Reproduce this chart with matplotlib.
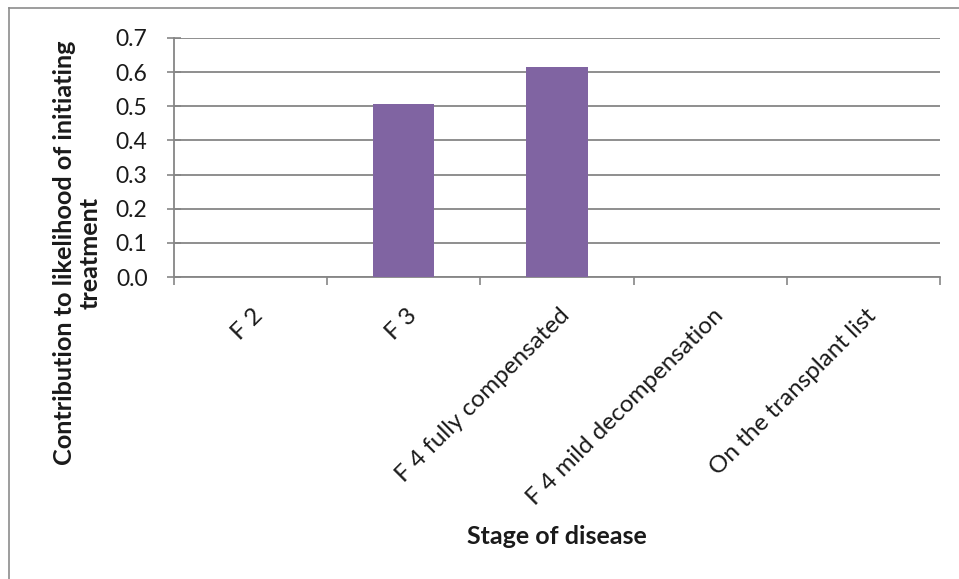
import matplotlib
matplotlib.use("Agg")
import matplotlib.pyplot as plt
from matplotlib.lines import Line2D
from matplotlib.transforms import ScaledTranslation
import numpy as np

plt.rcParams['font.family'] = ['Lato', 'DejaVu Sans']

stages = ["F 2", "F 3", "F 4 fully compensated", "F 4 mild decompensation",
          "On the transplant list"]
contribution = [0.0, 0.507, 0.615, 0.0, 0.0]
yticks = [0.0, 0.1, 0.2, 0.3, 0.4, 0.5, 0.6, 0.7]

W, H = 959, 579
fig = plt.figure(figsize=(W / 100, H / 100), dpi=100)
ax = fig.add_axes([174 / W, 1 - 277 / H, (940 - 174) / W, (277 - 38) / H])

x = np.arange(len(stages))
ax.bar(x, contribution, width=0.4, color="#8064A2", zorder=3)

ax.set_xlim(-0.5, len(stages) - 0.5)
ax.set_ylim(0, 0.7)
ax.set_yticks(yticks)
ax.set_yticklabels([f"{v:.1f}" for v in yticks], fontsize=16.5, color="#1a1a1a")
ax.yaxis.grid(True, color="#868686", linewidth=1.3, zorder=0)

# category labels at centres, tick marks at the boundaries
ax.set_xticks(x)
ax.set_xticklabels(stages, rotation=45, ha="right", va="top",
                   rotation_mode="anchor", fontsize=17.5, color="#1a1a1a")
ax.tick_params(axis="x", which="major", length=0, pad=20)
shift = ScaledTranslation(2 / 100, 0, fig.dpi_scale_trans)
for lab in ax.get_xticklabels():
    lab.set_transform(lab.get_transform() + shift)
ax.set_xticks(np.arange(-0.5, len(stages)), minor=True)
ax.tick_params(axis="x", which="minor", length=6, width=1.2, color="#868686")
ax.tick_params(axis="y", length=10, width=1.2, color="#868686",
               direction="inout", pad=14)

for s in ["top", "right"]:
    ax.spines[s].set_visible(False)
for s in ["left", "bottom"]:
    ax.spines[s].set_color("#868686")
    ax.spines[s].set_linewidth(1.3)

fig.text(77 / W, 1 - 253 / H,
         "Contribution to likelihood of initiating\ntreatment",
         rotation=90, ha="center", va="center", multialignment="center",
         fontsize=18.2, fontweight="bold", color="#1a1a1a", linespacing=1.15)
fig.text(557 / W, 1 - 537 / H, "Stage of disease", ha="center", va="center",
         fontsize=18, fontweight="bold", color="#1a1a1a")

# chart border (only left and top edges are inside the picture)
fig.add_artist(Line2D([9 / W, 9 / W], [0, 1 - 8 / H], transform=fig.transFigure,
                      color="#8c8c8c", linewidth=1.2))
fig.add_artist(Line2D([9 / W, 1], [1 - 8 / H, 1 - 8 / H], transform=fig.transFigure,
                      color="#8c8c8c", linewidth=1.2))

fig.savefig("out.png", dpi=100)
